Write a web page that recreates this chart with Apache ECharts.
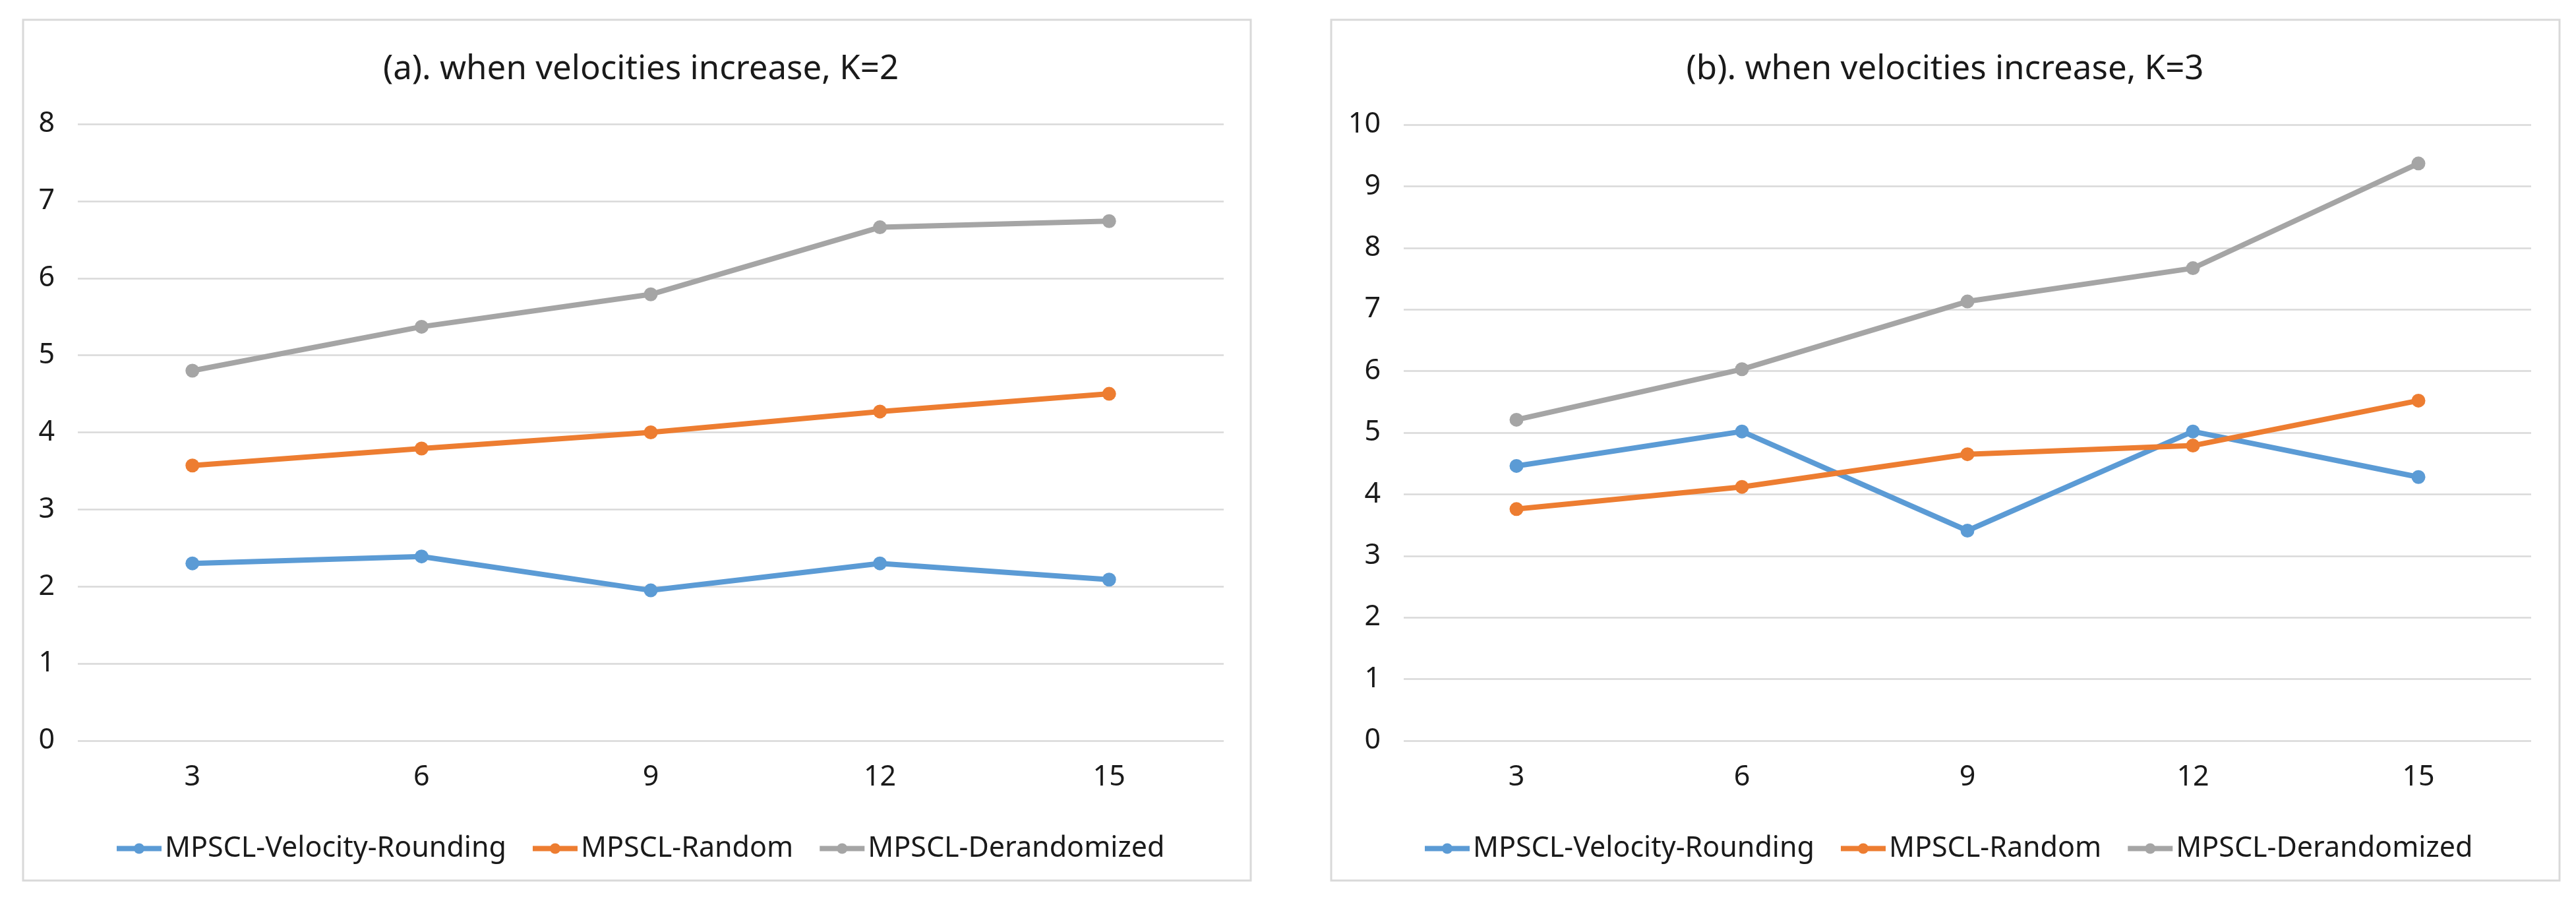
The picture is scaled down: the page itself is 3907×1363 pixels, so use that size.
<!DOCTYPE html>
<html>
<head>
<meta charset="utf-8">
<script src="https://cdn.jsdelivr.net/npm/echarts@6/dist/echarts.min.js"></script>
<style>
html,body{margin:0;padding:0;background:#fff;}
#chart{width:3907px;height:1363px;}
</style>
</head>
<body>
<div id="chart"></div>
<script>
const categories = ['3', '6', '9', '12', '15'];
const seriesNames = ['MPSCL-Velocity-Rounding', 'MPSCL-Random', 'MPSCL-Derandomized'];
const titleA = '(a). when velocities increase, K=2';
const titleB = '(b). when velocities increase, K=3';
const roundingA = [2.30, 2.39, 1.95, 2.30, 2.09];
const randomA = [3.57, 3.79, 4.00, 4.27, 4.50];
const derandA = [4.80, 5.37, 5.79, 6.66, 6.74];
const roundingB = [4.46, 5.02, 3.41, 5.02, 4.28];
const randomB = [3.76, 4.12, 4.65, 4.79, 5.52];
const derandB = [5.21, 6.03, 7.13, 7.67, 9.37];
const colors = ['#5B9BD5', '#ED7D31', '#A5A5A5'];

const FONT = 'Noto Sans';
const chart = echarts.init(document.getElementById('chart'), null, {renderer: 'canvas'});

function mkSeries(name, data, idx, axisIdx) {
  return {
    name: name, type: 'line', data: data,
    xAxisIndex: axisIdx, yAxisIndex: axisIdx,
    symbol: 'circle', symbolSize: 21, showSymbol: true,
    lineStyle: {width: 8, color: colors[idx]},
    itemStyle: {color: colors[idx]},
    animation: false
  };
}
function mkX(gi) {
  return {
    type: 'category', gridIndex: gi, data: categories, boundaryGap: true,
    axisLine: {show: false}, axisTick: {show: false},
    axisLabel: {fontFamily: FONT, fontSize: 43, color: '#1a1a1a', margin: 34}
  };
}
function mkY(gi, max) {
  return {
    type: 'value', gridIndex: gi, min: 0, max: max, interval: 1,
    axisLine: {show: false}, axisTick: {show: false},
    axisLabel: {fontFamily: FONT, fontSize: 43, color: '#1a1a1a', margin: 35},
    splitLine: {lineStyle: {color: '#D9D9D9', width: 2.7}}
  };
}
function mkLegend(left) {
  return {
    data: seriesNames, left: left, top: 1260, itemWidth: 68, itemHeight: 20, itemGap: 36,
    lineStyle: {width: 8},
    textStyle: {fontFamily: FONT, fontSize: 43, color: '#1a1a1a', padding: [0, 0, 0, 0]}
  };
}

const option = {
  backgroundColor: '#fff',
  animation: false,
  color: colors,
  graphic: [
    {type: 'rect', shape: {x: 35, y: 30, width: 1862, height: 1305}, style: {fill: 'none', stroke: '#D9D9D9', lineWidth: 3}, z: -1},
    {type: 'rect', shape: {x: 2019, y: 30, width: 1863, height: 1305}, style: {fill: 'none', stroke: '#D9D9D9', lineWidth: 3}, z: -1}
  ],
  title: [
    {text: titleA, left: 967, top: 100, textAlign: 'center', textVerticalAlign: 'middle',
     textStyle: {fontFamily: FONT, fontSize: 51, fontWeight: 'normal', color: '#1a1a1a'}},
    {text: titleB, left: 2945, top: 100, textAlign: 'center', textVerticalAlign: 'middle',
     textStyle: {fontFamily: FONT, fontSize: 51, fontWeight: 'normal', color: '#1a1a1a'}}
  ],
  legend: [mkLegend(168), mkLegend(2152)],
  grid: [
    {left: 118, right: 3907 - 1856, top: 188, bottom: 1363 - 1123},
    {left: 2129, right: 3907 - 3839, top: 189, bottom: 1363 - 1123}
  ],
  xAxis: [mkX(0), mkX(1)],
  yAxis: [mkY(0, 8), mkY(1, 10)],
  series: [
    mkSeries(seriesNames[0], roundingA, 0, 0),
    mkSeries(seriesNames[1], randomA, 1, 0),
    mkSeries(seriesNames[2], derandA, 2, 0),
    mkSeries(seriesNames[0], roundingB, 0, 1),
    mkSeries(seriesNames[1], randomB, 1, 1),
    mkSeries(seriesNames[2], derandB, 2, 1)
  ]
};
chart.setOption(option);
</script>
</body>
</html>
